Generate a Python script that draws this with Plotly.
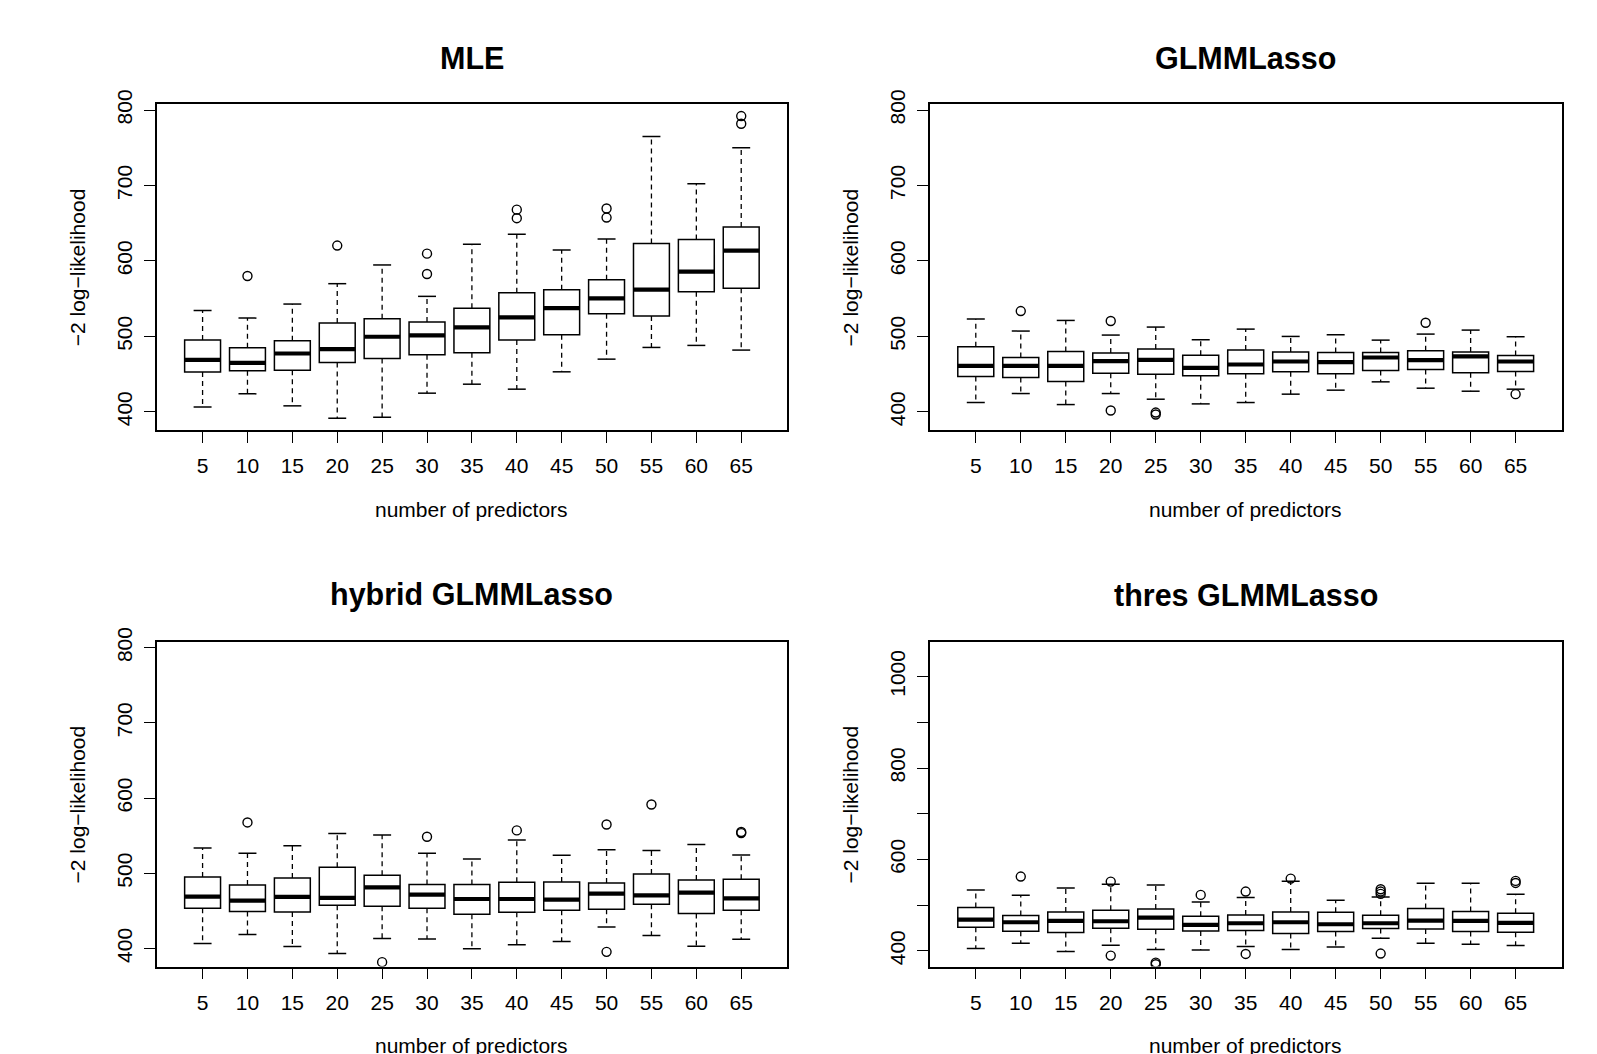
import plotly.graph_objects as go

# ---------------- data ----------------
predictors = [5, 10, 15, 20, 25, 30, 35, 40, 45, 50, 55, 60, 65]

panel_titles = ["MLE", "GLMMLasso", "hybrid GLMMLasso", "thres GLMMLasso"]

# MLE
mle_low = [406.6, 423.9, 408.0, 391.6, 392.9, 424.8, 436.7, 430.1, 453.1, 469.9, 485.4, 488.1, 481.9]
mle_q1 = [452.7, 454.4, 455.3, 465.5, 470.8, 475.7, 478.3, 495.1, 502.2, 530.1, 527.0, 559.3, 563.7]
mle_med = [469.0, 465.0, 477.4, 483.2, 499.6, 501.3, 512.0, 525.2, 537.6, 550.5, 562.0, 585.9, 613.7]
mle_q3 = [495.1, 485.0, 494.3, 517.7, 523.5, 519.0, 537.2, 558.0, 562.0, 575.2, 623.0, 628.3, 645.1]
mle_high = [534.5, 524.3, 542.9, 569.9, 594.7, 553.1, 622.1, 635.4, 614.6, 629.2, 765.0, 702.2, 750.0]
mle_out = [[], [580.1], [], [620.4], [], [609.7, 582.7], [], [668.0, 656.7], [],
           [669.5, 657.5], [], [], [792.0, 781.9]]

# GLMMLasso
glm_low = [412.4, 424.3, 409.7, 424.3, 416.8, 410.6, 412.4, 423.5, 428.8, 439.8, 431.4, 427.4, 430.1]
glm_q1 = [446.9, 445.6, 440.3, 451.3, 450.0, 447.8, 450.4, 453.1, 450.4, 454.9, 456.2, 451.8, 453.5]
glm_med = [461.0, 461.0, 461.0, 467.3, 469.0, 458.4, 462.8, 466.8, 465.9, 472.1, 468.6, 473.5, 466.8]
glm_q3 = [486.3, 472.1, 480.1, 477.9, 483.2, 475.2, 481.9, 479.2, 478.8, 478.8, 481.0, 479.2, 474.8]
glm_high = [523.0, 507.1, 521.2, 501.8, 512.4, 495.6, 509.7, 500.0, 502.2, 495.1, 503.1, 508.4, 499.6]
glm_out = [[], [533.6], [], [520.4, 401.8], [399.1, 396.5], [], [], [], [], [], [518.1], [], [423.5]]

# hybrid GLMMLasso
hyb_low = [406.6, 418.6, 402.7, 393.4, 413.3, 412.8, 399.6, 404.9, 409.3, 428.8, 417.3, 403.1, 412.4]
hyb_q1 = [453.5, 449.1, 448.7, 457.5, 456.2, 453.5, 445.6, 448.2, 450.9, 452.2, 458.9, 446.5, 450.9]
hyb_med = [469.0, 463.7, 468.6, 467.3, 481.4, 471.7, 465.9, 465.9, 465.0, 473.0, 470.8, 474.3, 466.8]
hyb_q3 = [495.1, 484.5, 493.8, 508.0, 497.4, 485.0, 485.0, 488.1, 488.5, 487.2, 499.1, 491.2, 492.0]
hyb_high = [533.6, 526.6, 536.7, 553.1, 550.9, 526.6, 519.0, 544.3, 523.9, 531.4, 530.5, 538.5, 524.3]
hyb_out = [[], [567.7], [], [], [381.9], [548.7], [], [557.1], [], [565.0, 395.6], [591.6], [],
           [554.9, 553.5]]

# thres GLMMLasso
thr_low = [405.1, 416.8, 398.5, 412.4, 402.9, 402.2, 409.5, 402.9, 408.7, 427.7, 416.8, 414.6, 411.7]
thr_q1 = [451.8, 443.0, 440.1, 449.6, 447.4, 443.7, 444.5, 437.9, 442.3, 448.8, 448.1, 442.3, 440.8]
thr_med = [468.5, 462.7, 465.6, 464.9, 472.9, 456.9, 460.5, 462.7, 458.3, 460.5, 466.3, 465.6, 461.2]
thr_q3 = [494.8, 477.3, 485.3, 488.9, 491.9, 475.8, 478.7, 485.3, 484.6, 478.0, 492.6, 486.0, 482.4]
thr_high = [533.4, 521.7, 537.8, 545.8, 544.3, 507.2, 516.6, 552.4, 510.8, 518.1, 548.0, 548.0, 523.9]
thr_out = [[], [562.6], [], [551.6, 389.8], [374.5, 370.8], [522.5], [529.8, 393.4], [558.2], [],
           [534.9, 529.8, 524.7, 394.2], [], [], [553.1, 548.7]]

y_ticks_std = [400, 500, 600, 700, 800]
y_text_std = ["400", "500", "600", "700", "800"]
y_ticks_thr = [400, 500, 600, 700, 800, 900, 1000]
y_text_thr = ["400", "", "600", "", "800", "", "1000"]

x_label = "number of predictors"
y_label = "\u22122 log\u2212likelihood"

# ---------------- layout helpers ----------------
W, H = 1597, 1054
FONT = "Liberation Sans, Arial, Helvetica, sans-serif"
TICK_SIZE = 21
LABEL_SIZE = 21
TITLE_SIZE = 30.5

panels = [
    dict(title=panel_titles[0], low=mle_low, q1=mle_q1, med=mle_med, q3=mle_q3, high=mle_high, out=mle_out,
         yr=[376.0, 808.0], yt=y_ticks_std, ytt=y_text_std, px=(156.8, 787.0), py=(104.0, 430.0), ty=58),
    dict(title=panel_titles[1], low=glm_low, q1=glm_q1, med=glm_med, q3=glm_q3, high=glm_high, out=glm_out,
         yr=[376.0, 808.0], yt=y_ticks_std, ytt=y_text_std, px=(929.9, 1561.5), py=(104.0, 430.0), ty=58),
    dict(title=panel_titles[2], low=hyb_low, q1=hyb_q1, med=hyb_med, q3=hyb_q3, high=hyb_high, out=hyb_out,
         yr=[376.0, 808.0], yt=y_ticks_std, ytt=y_text_std, px=(156.8, 787.0), py=(641.7, 966.6), ty=594.8),
    dict(title=panel_titles[3], low=thr_low, q1=thr_q1, med=thr_med, q3=thr_q3, high=thr_high, out=thr_out,
         yr=[365.7, 1076.3], yt=y_ticks_thr, ytt=y_text_thr, px=(929.9, 1561.5), py=(641.7, 966.6), ty=594.8),
]

fig = go.Figure()
annotations = []
layout_axes = {}
n = len(predictors)
pos = list(range(1, n + 1))
BOXW = 0.8
STAPLE = 0.2

for k, p in enumerate(panels):
    xa = "x" if k == 0 else f"x{k+1}"
    ya = "y" if k == 0 else f"y{k+1}"
    xkey = "xaxis" if k == 0 else f"xaxis{k+1}"
    ykey = "yaxis" if k == 0 else f"yaxis{k+1}"

    # dashed whiskers
    wx, wy = [], []
    for i in range(n):
        wx += [pos[i], pos[i], None, pos[i], pos[i], None]
        wy += [p["q3"][i], p["high"][i], None, p["q1"][i], p["low"][i], None]
    fig.add_trace(go.Scatter(x=wx, y=wy, mode="lines", xaxis=xa, yaxis=ya,
                             line=dict(color="black", width=1.3, dash="5px,4px"),
                             showlegend=False, hoverinfo="skip"))
    # staples
    sx, sy = [], []
    for i in range(n):
        sx += [pos[i] - STAPLE, pos[i] + STAPLE, None, pos[i] - STAPLE, pos[i] + STAPLE, None]
        sy += [p["high"][i], p["high"][i], None, p["low"][i], p["low"][i], None]
    fig.add_trace(go.Scatter(x=sx, y=sy, mode="lines", xaxis=xa, yaxis=ya,
                             line=dict(color="black", width=1.5),
                             showlegend=False, hoverinfo="skip"))
    # boxes
    fig.add_trace(go.Box(x=pos, q1=p["q1"], median=p["med"], q3=p["q3"],
                         lowerfence=p["q1"], upperfence=p["q3"],
                         xaxis=xa, yaxis=ya, width=BOXW, whiskerwidth=0,
                         fillcolor="white", line=dict(color="black", width=1.5),
                         boxpoints=False, showlegend=False, hoverinfo="skip"))
    # thick medians
    mx, my = [], []
    for i in range(n):
        mx += [pos[i] - BOXW / 2, pos[i] + BOXW / 2, None]
        my += [p["med"][i], p["med"][i], None]
    fig.add_trace(go.Scatter(x=mx, y=my, mode="lines", xaxis=xa, yaxis=ya,
                             line=dict(color="black", width=4.2),
                             showlegend=False, hoverinfo="skip"))
    # outliers
    ox, oy = [], []
    for i in range(n):
        for v in p["out"][i]:
            ox.append(pos[i])
            oy.append(v)
    fig.add_trace(go.Scatter(x=ox, y=oy, mode="markers", xaxis=xa, yaxis=ya,
                             marker=dict(symbol="circle-open", size=9, color="black",
                                         line=dict(width=1.4, color="black")),
                             showlegend=False, hoverinfo="skip"))

    x0, x1 = p["px"]
    y0, y1 = p["py"]
    layout_axes[xkey] = dict(
        domain=[x0 / W, x1 / W], anchor=ya, range=[-0.02, 14.02],
        tickmode="array", tickvals=pos, ticktext=[str(v) for v in predictors],
        showline=True, linecolor="black", linewidth=1.5, mirror=True,
        ticks="outside", ticklen=11, tickwidth=1.3, tickcolor="black",
        showgrid=False, zeroline=False, automargin=False,
        tickfont=dict(family=FONT, size=TICK_SIZE, color="black"),
        ticklabelstandoff=5,
    )
    layout_axes[ykey] = dict(
        domain=[1 - y1 / H, 1 - y0 / H], anchor=xa, range=p["yr"],
        tickmode="array", tickvals=p["yt"], ticktext=p["ytt"], tickangle=-90,
        showline=True, linecolor="black", linewidth=1.5, mirror=True,
        ticks="outside", ticklen=11, tickwidth=1.3, tickcolor="black",
        showgrid=False, zeroline=False, automargin=False,
        tickfont=dict(family=FONT, size=TICK_SIZE, color="black"),
        ticklabelstandoff=4,
    )
    cx = (x0 + x1) / 2
    cy = (y0 + y1) / 2
    annotations.append(dict(text="<b>" + p["title"] + "</b>", x=cx / W, y=1 - p["ty"] / H,
                            xref="paper", yref="paper", xanchor="center", yanchor="middle",
                            showarrow=False, font=dict(family=FONT, size=TITLE_SIZE, color="black")))
    annotations.append(dict(text=x_label, x=cx / W, y=1 - (y1 + 79) / H,
                            xref="paper", yref="paper", xanchor="center", yanchor="middle",
                            showarrow=False, font=dict(family=FONT, size=LABEL_SIZE, color="black")))
    annotations.append(dict(text=y_label, x=(x0 - 79.5) / W, y=1 - cy / H, textangle=-90,
                            xref="paper", yref="paper", xanchor="center", yanchor="middle",
                            showarrow=False, font=dict(family=FONT, size=LABEL_SIZE, color="black")))

fig.update_layout(
    width=W, height=H, margin=dict(l=0, r=0, t=0, b=0, pad=0, autoexpand=False),
    paper_bgcolor="white", plot_bgcolor="white",
    font=dict(family=FONT, color="black"),
    annotations=annotations, showlegend=False,
    **layout_axes,
)

fig.write_html(
    "out.html",
    config={"displayModeBar": False},
    post_script="document.body.style.margin='0';document.body.style.padding='0';"
                "document.documentElement.style.overflow='hidden';",
)
